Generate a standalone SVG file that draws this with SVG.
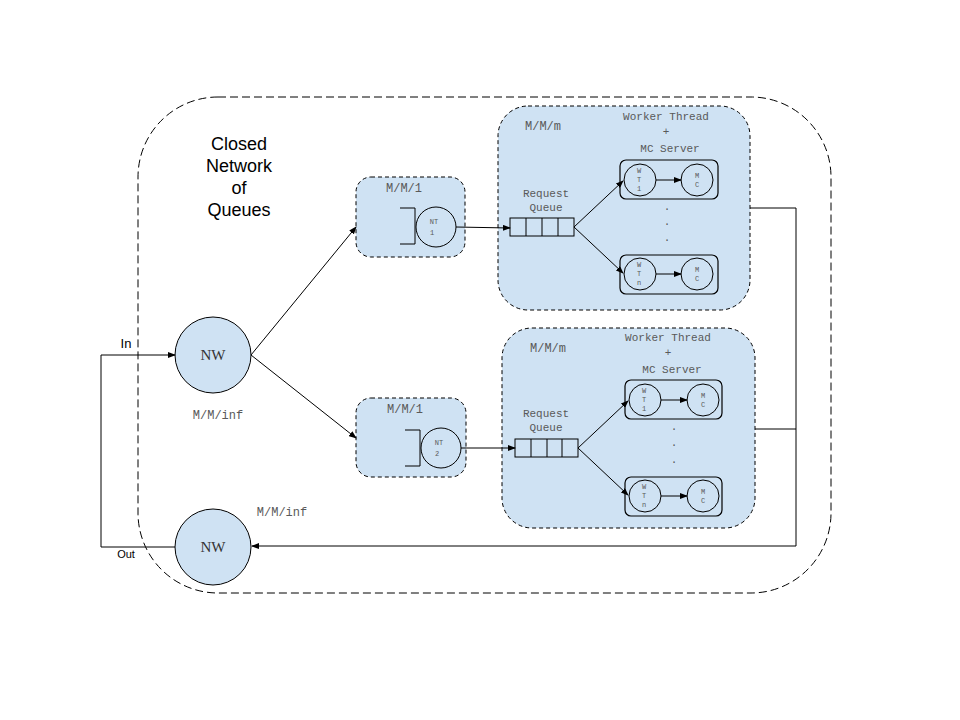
<svg xmlns="http://www.w3.org/2000/svg" width="960" height="720" viewBox="0 0 960 720">
<style>
.bg{fill:#fff}
.box{fill:#cfe2f3;stroke:#000;stroke-width:1;stroke-dasharray:4,3}
.outer{fill:none;stroke:#000;stroke-width:1;stroke-dasharray:8,4}
.node{fill:#cfe2f3;stroke:#000;stroke-width:1}
.wbox{fill:none;stroke:#000;stroke-width:1.2}
.ln{fill:none;stroke:#000;stroke-width:1}
.arr{fill:none;stroke:#000;stroke-width:1;marker-end:url(#ah)}
.mono{font-family:"Liberation Mono","DejaVu Sans Mono",monospace;fill:#595959;text-anchor:middle}
.m12{font-size:12px}
.m11{font-size:11px}
.m7{font-size:7px}
.nw{font-family:"Liberation Serif","DejaVu Serif",serif;font-size:15px;fill:#333;text-anchor:middle}
.sans{font-family:"Liberation Sans",Arial,sans-serif;fill:#000;text-anchor:middle}
</style>
<defs>
<marker id="ah" markerWidth="8" markerHeight="6" refX="7" refY="3" orient="auto" markerUnits="userSpaceOnUse">
<path d="M0,0 L8,3 L0,6 z" fill="#000"/>
</marker>
</defs>
<rect class="bg" x="0" y="0" width="960" height="720"/>
<rect class="outer" x="138" y="97" width="693" height="496" rx="80" ry="80"/>
<g id="title">
<text class="sans" x="239" y="150" font-size="18">Closed</text>
<text class="sans" x="239" y="172" font-size="18">Network</text>
<text class="sans" x="239" y="194" font-size="18">of</text>
<text class="sans" x="239" y="216" font-size="18">Queues</text>
</g>
<g id="nw-in">
<circle class="node" cx="213" cy="355" r="38"/>
<text class="nw" x="213" y="360">NW</text>
<text class="mono m12" x="218" y="419">M/M/inf</text>
</g>
<g id="nw-out">
<circle class="node" cx="213" cy="547" r="38"/>
<text class="nw" x="213" y="552">NW</text>
<text class="mono m12" x="282" y="516">M/M/inf</text>
</g>
<g id="mm1-top">
<rect class="box" x="356" y="177" width="109" height="80" rx="15"/>
<text class="mono m12" x="404" y="192">M/M/1</text>
<path class="ln" d="M400,208 L415,208 L415,244 L400,244"/>
<circle class="node" cx="436" cy="227" r="20"/>
<text class="mono m7" x="434" y="224">NT</text>
<text class="mono m7" x="432" y="235">1</text>
</g>
<g id="mm1-bottom">
<rect class="box" x="356" y="398" width="110" height="79" rx="15"/>
<text class="mono m12" x="405" y="413">M/M/1</text>
<path class="ln" d="M405,430 L420,430 L420,466 L405,466"/>
<circle class="node" cx="441" cy="448" r="20"/>
<text class="mono m7" x="439" y="445">NT</text>
<text class="mono m7" x="437" y="456">2</text>
</g>
<g id="mmm-top">
<rect class="box" x="498" y="106" width="252" height="204" rx="30"/>
<text class="mono m12" x="543" y="130">M/M/m</text>
<text class="mono m11" x="666" y="120">Worker Thread</text>
<text class="mono m11" x="666" y="135">+</text>
<text class="mono m11" x="670" y="152">MC Server</text>
<text class="mono m11" x="546" y="197">Request</text>
<text class="mono m11" x="546" y="211">Queue</text>
<rect class="ln" x="510" y="218" width="64" height="18"/>
<path class="ln" d="M526,218 V236 M542,218 V236 M558,218 V236"/>
<rect class="wbox" x="620" y="160" width="98" height="39" rx="6"/>
<circle class="ln" cx="640" cy="180" r="16"/>
<circle class="ln" cx="697" cy="180" r="16"/>
<text class="mono m7" x="639" y="173">W</text>
<text class="mono m7" x="639" y="182">T</text>
<text class="mono m7" x="639" y="191">1</text>
<text class="mono m7" x="697" y="178">M</text>
<text class="mono m7" x="697" y="187">C</text>
<text class="mono m11" x="667" y="210">.</text>
<text class="mono m11" x="667" y="225">.</text>
<text class="mono m11" x="667" y="241">.</text>
<rect class="wbox" x="620" y="255" width="98" height="39" rx="6"/>
<circle class="ln" cx="640" cy="274" r="16"/>
<circle class="ln" cx="697" cy="274" r="16"/>
<text class="mono m7" x="639" y="267">W</text>
<text class="mono m7" x="639" y="276">T</text>
<text class="mono m7" x="639" y="285">n</text>
<text class="mono m7" x="697" y="272">M</text>
<text class="mono m7" x="697" y="281">C</text>
</g>
<g id="mmm-bottom">
<rect class="box" x="502" y="328" width="253" height="200" rx="30"/>
<text class="mono m12" x="548" y="352">M/M/m</text>
<text class="mono m11" x="668" y="341">Worker Thread</text>
<text class="mono m11" x="668" y="356">+</text>
<text class="mono m11" x="672" y="373">MC Server</text>
<text class="mono m11" x="546" y="417">Request</text>
<text class="mono m11" x="546" y="431">Queue</text>
<rect class="ln" x="515" y="439" width="63" height="18"/>
<path class="ln" d="M531,439 V457 M547,439 V457 M562,439 V457"/>
<rect class="wbox" x="625" y="380" width="97" height="39" rx="6"/>
<circle class="ln" cx="645" cy="400" r="16"/>
<circle class="ln" cx="703" cy="400" r="16"/>
<text class="mono m7" x="644" y="393">W</text>
<text class="mono m7" x="644" y="402">T</text>
<text class="mono m7" x="644" y="411">1</text>
<text class="mono m7" x="703" y="398">M</text>
<text class="mono m7" x="703" y="407">C</text>
<text class="mono m11" x="674" y="430">.</text>
<text class="mono m11" x="674" y="446">.</text>
<text class="mono m11" x="674" y="463">.</text>
<rect class="wbox" x="625" y="477" width="97" height="39" rx="6"/>
<circle class="ln" cx="645" cy="496" r="16"/>
<circle class="ln" cx="703" cy="496" r="16"/>
<text class="mono m7" x="644" y="489">W</text>
<text class="mono m7" x="644" y="498">T</text>
<text class="mono m7" x="644" y="507">n</text>
<text class="mono m7" x="703" y="494">M</text>
<text class="mono m7" x="703" y="503">C</text>
</g>
<g id="connectors">
<path class="arr" d="M251,355 L356,227"/>
<path class="arr" d="M251,355 L356,438"/>
<path class="arr" d="M456,227 L510,228"/>
<path class="arr" d="M461,448 L515,448"/>
<path class="arr" d="M574,227 L623,181"/>
<path class="arr" d="M574,227 L623,273"/>
<path class="arr" d="M578,448 L628,401"/>
<path class="arr" d="M578,448 L628,495"/>
<path class="arr" d="M656,180 L681,180"/>
<path class="arr" d="M656,274 L681,274"/>
<path class="arr" d="M661,400 L687,400"/>
<path class="arr" d="M661,496 L687,496"/>
<path class="ln" d="M750,208 L796,208 L796,546"/>
<path class="ln" d="M755,429 L796,429"/>
<path class="arr" d="M796,546 L252,546"/>
<path class="ln" d="M175,547 L101,547 L101,355"/>
<path class="arr" d="M101,355 L175,355"/>
<text class="sans" x="126" y="348" font-size="13">In</text>
<text class="sans" x="126" y="558" font-size="11">Out</text>
</g>
</svg>
